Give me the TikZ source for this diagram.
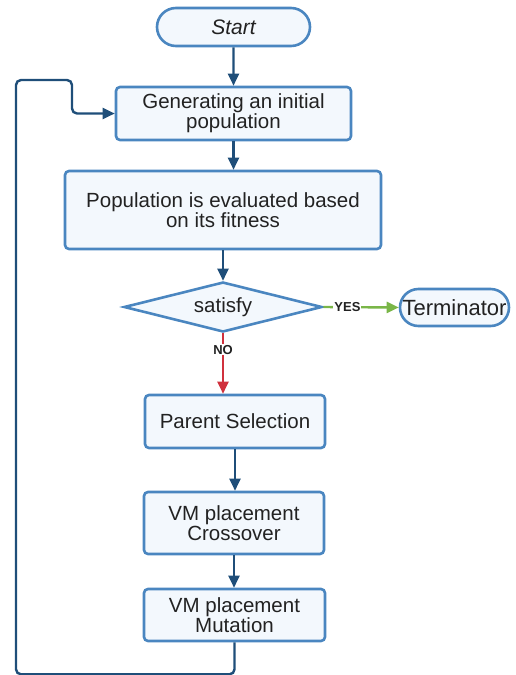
\documentclass[tikz,border=0pt]{standalone}
\usepackage{fontspec}
\setmainfont{Liberation Sans}
\usetikzlibrary{arrows.meta,shapes.geometric,shapes.misc}
\definecolor{bord}{HTML}{4A86C0}
\definecolor{boxfill}{HTML}{F3F8FD}
\definecolor{arrc}{HTML}{1F4E79}
\definecolor{yesc}{HTML}{7AB648}
\definecolor{noc}{HTML}{D0313D}
\definecolor{txt}{HTML}{222222}
\tikzset{
  procbox/.style={draw=bord, fill=boxfill, line width=2.6pt, rounded corners=4pt, align=center, text=txt, font=\fontsize{20.5}{20}\selectfont, inner sep=0pt},
  termbox/.style={draw=bord, fill=boxfill, line width=2.6pt, rounded rectangle, align=center, text=txt, inner sep=0pt},
  decbox/.style={draw=bord, fill=boxfill, line width=2.6pt, diamond, aspect=4, inner sep=0pt, text=txt, font=\fontsize{20.5}{20}\selectfont},
  tip/.style={-{Triangle[length=12pt,width=11pt]}},
  arr/.style={draw=arrc, line width=2.4pt, tip},
  lbl/.style={font=\bfseries\fontsize{13}{14}\selectfont, text=txt, fill=white, inner sep=1pt}
}
\begin{document}
\begin{tikzpicture}[x=1pt,y=-1pt]
\useasboundingbox (0,0) rectangle (516,675);
\node[termbox, minimum width=153pt, minimum height=38pt, font=\itshape\fontsize{21}{22}\selectfont] (start) at (233.5,27) {Start};
\node[procbox, minimum width=235pt, minimum height=53pt] (gen) at (233.5,113.5) {Generating an initial\\population};
\node[procbox, minimum width=316pt, minimum height=78pt] (eval) at (223,210) {Population is evaluated based\\on its fitness};
\node[decbox, minimum width=198pt, minimum height=50pt] (sat) at (223,307) {satisfy};
\node[termbox, minimum width=109pt, minimum height=37pt, font=\fontsize{22}{24}\selectfont] (term) at (454.5,307.5) {Terminator};
\node[procbox, minimum width=180pt, minimum height=53pt] (par) at (235,421.5) {Parent Selection};
\node[procbox, minimum width=180pt, minimum height=62pt] (cross) at (234,523) {VM placement\\Crossover};
\node[procbox, minimum width=181pt, minimum height=52pt] (mut) at (234.5,615) {VM placement\\Mutation};

\draw[arr] (start) -- (gen);
\draw[arr] (gen.south) -- (gen.south |- eval.north);
\draw[arr] (eval.south) -- (sat.north);
\draw[draw=yesc, line width=2.4pt, tip] (sat.east) -- node[lbl, pos=0.32] {YES} (term.west);
\draw[draw=noc, line width=2.4pt, tip] (sat.south) -- node[lbl, pos=0.27] {NO} (sat.south |- par.north);
\draw[arr] (par.south) -- (par.south |- cross.north);
\draw[arr] (cross.south) -- (cross.south |- mut.north);
\draw[arr, rounded corners=5pt] (mut.south) -- ++(0,32) -| (16,80) -| (72,113.5) -- (gen.west);
\end{tikzpicture}
\end{document}
